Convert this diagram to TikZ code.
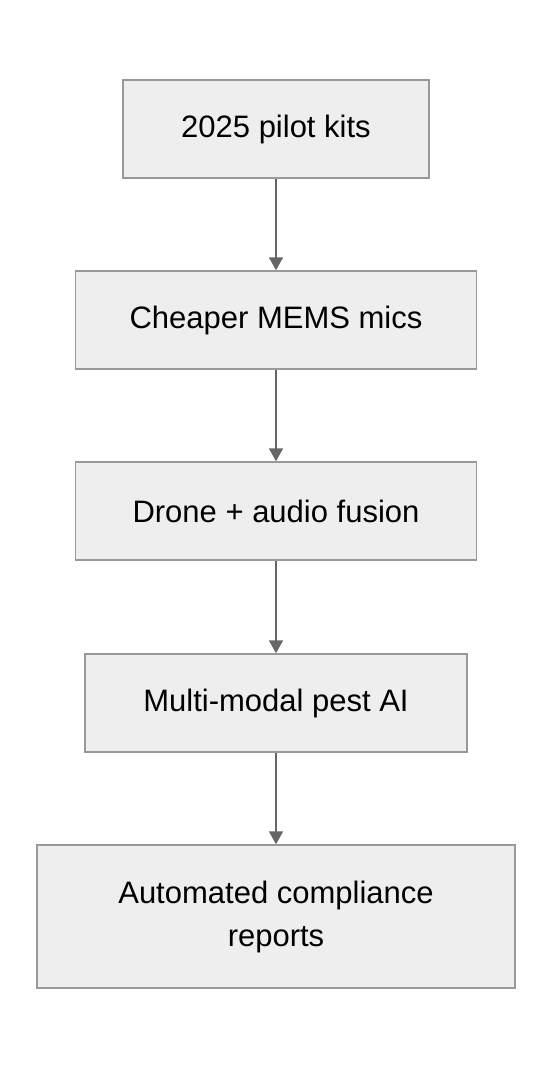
\documentclass[tikz,border=0pt]{standalone}
\usepackage{fontspec}
\setmainfont{Liberation Sans}
\usetikzlibrary{arrows.meta}
\definecolor{boxfill}{HTML}{EEEEEE}
\definecolor{boxline}{HTML}{999999}
\definecolor{arrowline}{HTML}{666666}

\begin{document}
\begin{tikzpicture}[
  x = 1pt,
  y = -1pt,
  stage/.style = {draw = boxline, fill = boxfill, line width = 1.5pt,
    minimum height = 98pt, inner sep = 0pt, align = center,
    font = \fontsize{31}{43}\selectfont},
  flow/.style = {draw = arrowline, line width = 2pt,
    -{Triangle[width = 14pt, length = 13pt]}},
  ]

  \useasboundingbox (0, 0) rectangle (552, 1068);

  \node at (276, 129)
  [stage, minimum width = 306pt, name = Pilot] {2025 pilot kits};

  \node at (276, 320)
  [stage, minimum width = 401pt, name = Mics] {Cheaper MEMS mics};

  \node at (276, 511)
  [stage, minimum width = 401pt, name = Fusion] {Drone + audio fusion};

  \node at (276, 703)
  [stage, minimum width = 382pt, name = PestAI] {Multi-modal pest AI};

  \node at (276, 916.5)
  [stage, minimum width = 478pt, minimum height = 143pt, name = Reports]
  {Automated compliance\\reports};

  \draw [flow] (Pilot) to (Mics);

  \draw [flow] (Mics) to (Fusion);

  \draw [flow] (Fusion) to (PestAI);

  \draw [flow] (PestAI) to (Reports);

\end{tikzpicture}
\end{document}
